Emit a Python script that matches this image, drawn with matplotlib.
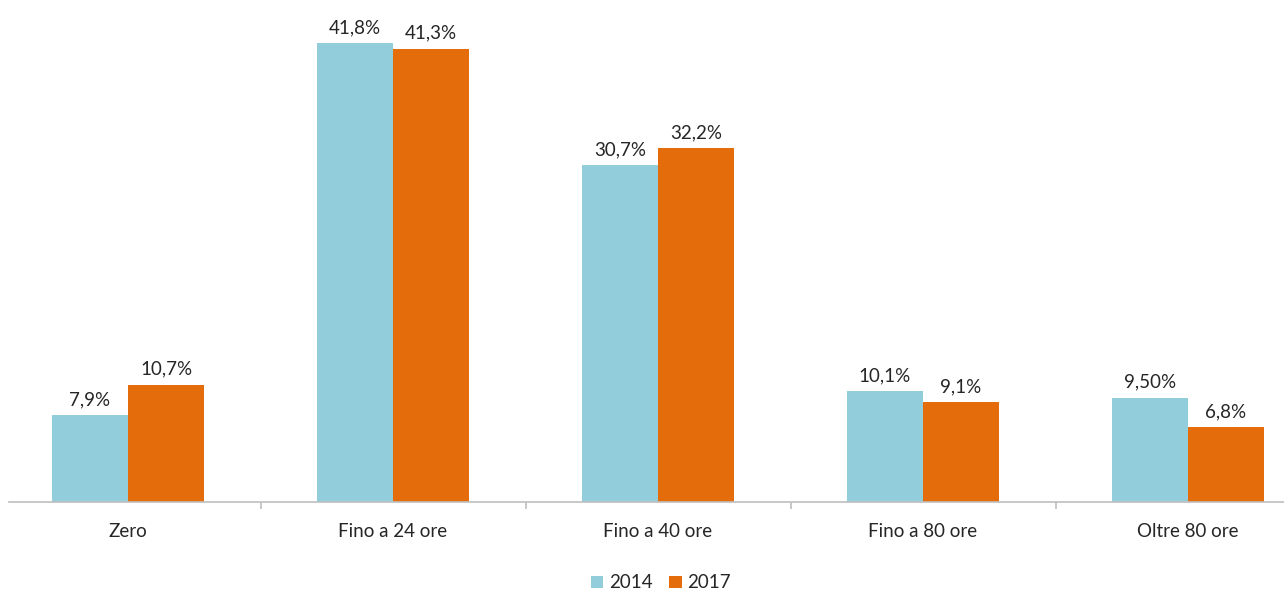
import matplotlib.pyplot as plt
import numpy as np

# dati
categorie = ['Zero', 'Fino a 24 ore', 'Fino a 40 ore', 'Fino a 80 ore', 'Oltre 80 ore']
valori_2014 = [7.9, 41.8, 30.7, 10.1, 9.5]
valori_2017 = [10.7, 41.3, 32.2, 9.1, 6.8]
etichette_2014 = ['7,9%', '41,8%', '30,7%', '10,1%', '9,50%']
etichette_2017 = ['10,7%', '41,3%', '32,2%', '9,1%', '6,8%']
serie = ['2014', '2017']

col_2014 = '#92CDDC'
col_2017 = '#E46C0A'

plt.rcParams['font.family'] = ['Lato', 'DejaVu Sans']
fs = 13.5

W, H = 1284, 591
fig = plt.figure(figsize=(W / 100, H / 100), dpi=100)
# asse da x=9px a 1284px, base a y=502px
ax = fig.add_axes([9 / W, (H - 502) / H, (W - 9) / W, 502 / H])

x = np.arange(len(categorie))
larg = 76 / 265

b1 = ax.bar(x - larg / 2, valori_2014, larg, color=col_2014, label=serie[0])
b2 = ax.bar(x + larg / 2, valori_2017, larg, color=col_2017, label=serie[1])

for barre, etich in [(b1, etichette_2014), (b2, etichette_2017)]:
    for b, t in zip(barre, etich):
        ax.annotate(t, (b.get_x() + b.get_width() / 2, b.get_height()),
                    xytext=(0, 5), textcoords='offset points',
                    ha='center', va='bottom', fontsize=fs, color='#262626')

ax.set_xlim((9 - 128) / 265, (1284 - 128) / 265)
ax.set_ylim(0, 502 / 10.98)

for s in ['top', 'right', 'left']:
    ax.spines[s].set_visible(False)
ax.spines['bottom'].set_color('#BFBFBF')
ax.spines['bottom'].set_linewidth(1.2)
ax.set_yticks([])

ax.set_xticks(x)
ax.set_xticklabels(categorie, fontsize=fs, color='#262626')
ax.tick_params(axis='x', length=0, pad=15)
ax.set_xticks(x[:-1] + 0.5, minor=True)
ax.tick_params(axis='x', which='minor', length=5, color='#BFBFBF', width=1.2)

fig.legend(loc='center', bbox_to_anchor=(661 / W, (H - 583) / H), ncol=2,
           frameon=False, fontsize=fs, handlelength=0.65, handleheight=0.65,
           handletextpad=0.3, columnspacing=0.9, labelcolor='#262626')

fig.savefig('out.png', dpi=100)
